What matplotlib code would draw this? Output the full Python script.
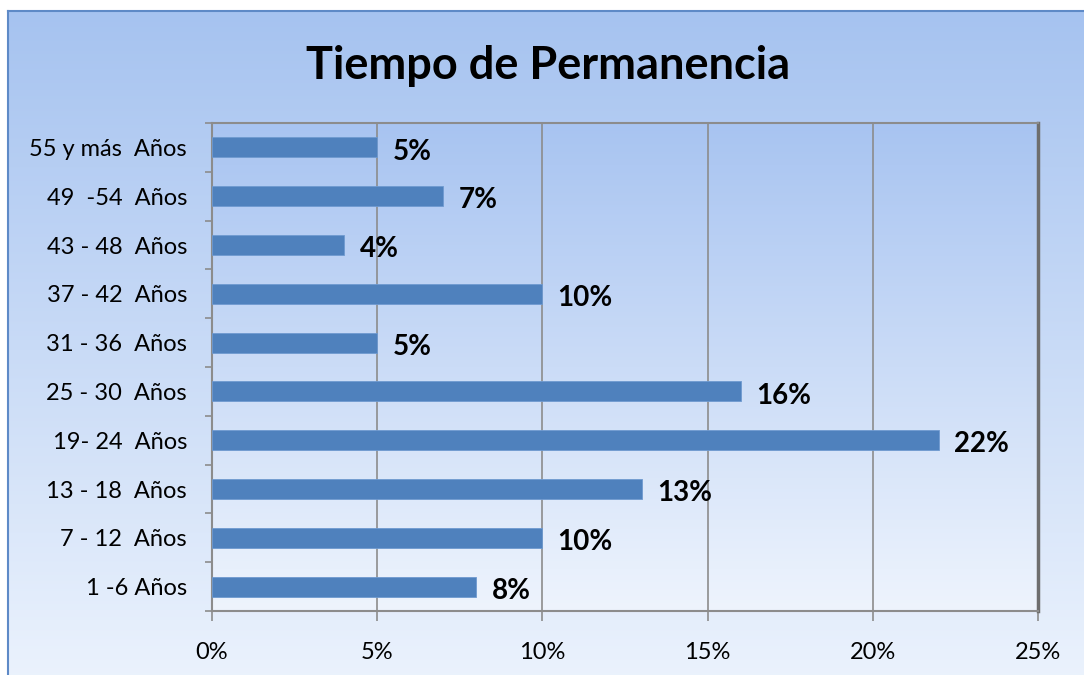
import matplotlib.pyplot as plt
import numpy as np

plt.rcParams['font.family'] = ['Lato', 'DejaVu Sans']

categorias = ['1 -6 Años', '7 - 12  Años', '13 - 18  Años', '19- 24  Años',
              '25 - 30  Años', '31 - 36  Años', '37 - 42  Años', '43 - 48  Años',
              '49  -54  Años', '55 y más  Años']
valores = [8, 10, 13, 22, 16, 5, 10, 4, 7, 5]
xticks = [0, 5, 10, 15, 20, 25]

W, H = 1084, 675
fig = plt.figure(figsize=(W / 100, H / 100), dpi=100, facecolor='white')

# fondo con degradado (el borde derecho e inferior quedan fuera de la imagen)
bg = fig.add_axes([8 / W, -0.02, 1.02, 1.02 - 11 / H])
grad = np.linspace(0, 1, 256).reshape(-1, 1)
c_top = np.array([166, 195, 240]) / 255
c_bot = np.array([236, 243, 253]) / 255
img = c_top + (c_bot - c_top) * grad[:, :, None]
bg.imshow(img, aspect='auto', extent=[0, 1, 0, 1], origin='upper')
bg.set_xticks([])
bg.set_yticks([])
for s in bg.spines.values():
    s.set_color('#5E8AC7')
    s.set_linewidth(1.5)

ax = fig.add_axes([212 / W, 1 - 611 / H, 826 / W, 488 / H])
c_top2 = np.array([168, 196, 241]) / 255
c_bot2 = np.array([238, 244, 253]) / 255
img2 = c_top2 + (c_bot2 - c_top2) * grad[:, :, None]
ax.imshow(img2, aspect='auto', extent=[0, 1, 0, 1], origin='upper',
          transform=ax.transAxes, zorder=0)

y = np.arange(len(categorias))
ax.barh(y, valores, height=0.41, color='#4F81BD', edgecolor='#6F9AD0',
        linewidth=0.6, zorder=3)
for yi, v in zip(y, valores):
    ax.annotate('%d%%' % v, (v, yi), xytext=(11, -3), textcoords='offset points',
                ha='left', va='center', fontsize=20, fontweight='bold', zorder=4)

ax.set_xlim(0, 25)
ax.set_ylim(-0.5, len(categorias) - 0.5)
ax.set_xticks(xticks)
ax.set_xticklabels(['%d%%' % t for t in xticks], fontsize=17)
ax.set_yticks(y)
ax.set_yticklabels(categorias, fontsize=17)
ax.set_yticks(np.arange(-0.5, len(categorias), 1), minor=True)
ax.tick_params(axis='y', which='major', length=0, pad=18)
ax.tick_params(axis='y', which='minor', length=5, color='#8C8C8C', width=1.2)
ax.tick_params(axis='x', length=7, color='#8C8C8C', width=1.2, pad=15)
ax.grid(axis='x', color='#8C8C8C', linewidth=1.2, zorder=1)
ax.set_axisbelow(True)
for side in ['left', 'bottom', 'top']:
    ax.spines[side].set_color('#8C8C8C')
    ax.spines[side].set_linewidth(1.5)
ax.spines['right'].set_color('#6E6E6E')
ax.spines['right'].set_linewidth(2.5)

fig.text(548 / W, 1 - 66 / H, 'Tiempo de Permanencia', ha='center', va='center',
         fontsize=32.5, fontweight='bold')

fig.savefig('out.png', dpi=100)
